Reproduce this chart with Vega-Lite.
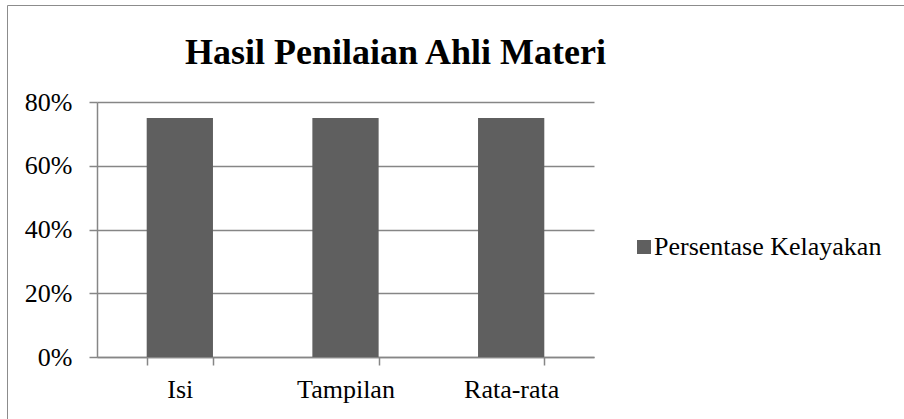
{
  "$schema": "https://vega.github.io/schema/vega-lite/v6.json",
  "width": 497,
  "height": 255,
  "autosize": {"type": "none"},
  "padding": {"left": 97, "top": 102, "right": 310, "bottom": 62},
  "background": "white",
  "title": {
    "text": "Hasil Penilaian Ahli Materi",
    "font": "Liberation Serif",
    "fontSize": 36,
    "fontWeight": "bold",
    "color": "#000000",
    "anchor": "middle",
    "frame": "group",
    "dx": 50,
    "baseline": "alphabetic",
    "offset": -95
  },
  "data": {
    "values": [
      {"kategori": "Isi", "persentase": 0.75, "seri": "Persentase Kelayakan"},
      {"kategori": "Tampilan", "persentase": 0.75, "seri": "Persentase Kelayakan"},
      {"kategori": "Rata-rata", "persentase": 0.75, "seri": "Persentase Kelayakan"}
    ]
  },
  "mark": {"type": "bar"},
  "encoding": {
    "x": {
      "field": "kategori",
      "type": "nominal",
      "sort": null,
      "scale": {"paddingInner": 0.6, "paddingOuter": 0.3},
      "axis": {
        "title": null,
        "labelAngle": 0,
        "labelFont": "Liberation Serif",
        "labelFontSize": 26,
        "labelColor": "#000000",
        "tickBand": "extent",
        "tickSize": 8,
        "tickColor": "#868686",
        "tickWidth": 1.5,
        "domainColor": "#868686",
        "domainWidth": 1.5,
        "labelPadding": 11,
        "grid": false
      }
    },
    "y": {
      "field": "persentase",
      "type": "quantitative",
      "scale": {"domain": [0, 0.8], "nice": false},
      "axis": {
        "title": null,
        "values": [0, 0.2, 0.4, 0.6, 0.8],
        "format": ".0%",
        "labelFont": "Liberation Serif",
        "labelFontSize": 26,
        "labelColor": "#000000",
        "grid": true,
        "gridColor": "#868686",
        "gridWidth": 1.5,
        "tickSize": 8,
        "tickColor": "#868686",
        "tickWidth": 1.5,
        "domainColor": "#868686",
        "domainWidth": 1.5,
        "labelPadding": 17
      }
    },
    "color": {
      "field": "seri",
      "type": "nominal",
      "scale": {"range": ["#5f5f5f"]},
      "legend": {
        "orient": "none",
        "legendX": 534,
        "legendY": 132,
        "title": null,
        "padding": 0,
        "symbolType": "square",
        "symbolSize": 196,
        "symbolStrokeWidth": 0,
        "labelFont": "Liberation Serif",
        "labelFontSize": 26,
        "labelColor": "#000000",
        "labelOffset": -3,
        "labelLimit": 400
      }
    },
    "opacity": {
      "field": "kategori",
      "type": "ordinal",
      "sort": null,
      "scale": {"range": [1, 1]},
      "legend": {
        "orient": "none",
        "legendX": -90,
        "legendY": -97,
        "title": null,
        "padding": 460,
        "strokeColor": "#8c8c8c",
        "symbolSize": 0,
        "symbolStrokeWidth": 0,
        "labelExpr": "''",
        "labelFontSize": 1
      }
    }
  },
  "config": {"view": {"stroke": null}, "font": "Liberation Serif"}
}
